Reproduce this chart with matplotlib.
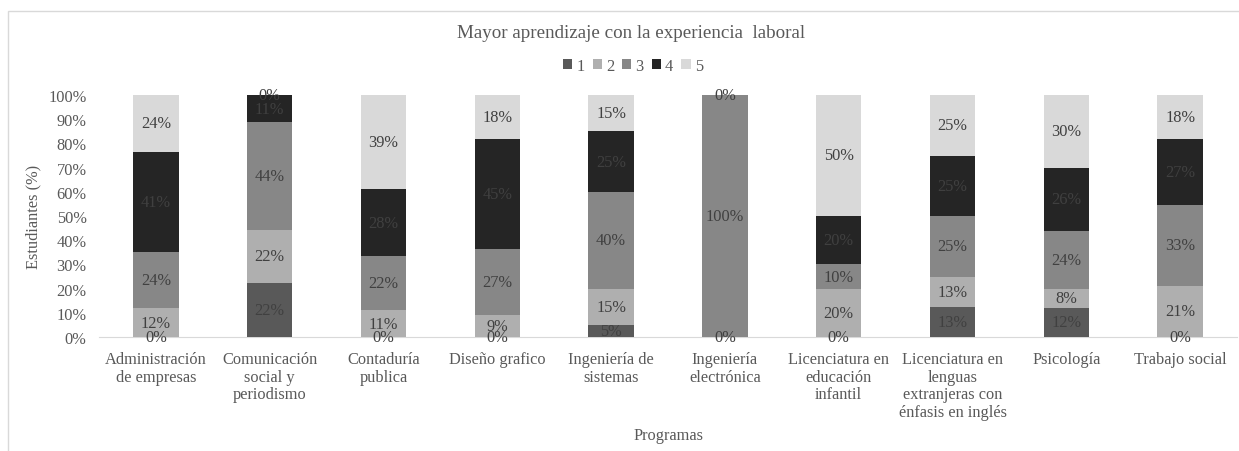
import matplotlib
matplotlib.use('agg')
import matplotlib.pyplot as plt
from matplotlib.patches import Rectangle
import numpy as np

programas = ['Administración\nde empresas', 'Comunicación\nsocial y\nperiodismo',
             'Contaduría\npublica', 'Diseño grafico', 'Ingeniería de\nsistemas',
             'Ingeniería\nelectrónica', 'Licenciatura en\neducación\ninfantil',
             'Licenciatura en\nlenguas\nextranjeras con\nénfasis en inglés',
             'Psicología', 'Trabajo social']
niveles = ['1', '2', '3', '4', '5']
nivel1 = [0, 22.2, 0, 0, 5, 0, 0, 12.5, 12, 0]
nivel2 = [11.8, 22.2, 11.1, 9.1, 15, 0, 20, 12.5, 8, 21.2]
nivel3 = [23.5, 44.4, 22.2, 27.3, 40, 100, 10, 25, 24, 33.3]
nivel4 = [41.2, 11.1, 27.8, 45.4, 25, 0, 20, 25, 26, 27.3]
nivel5 = [23.5, 0, 38.9, 18.2, 15, 0, 50, 25, 30, 18.2]
colores = ['#595959', '#afafaf', '#878787', '#252525', '#d9d9d9']

TXT = '#595959'
FS = 11.8
plt.rcParams['font.family'] = ['Liberation Serif', 'DejaVu Serif']

fig = plt.figure(figsize=(12.39, 4.52), dpi=100)
ax = fig.add_axes([99/1239, 1 - 338/452, (1237 - 99)/1239, (338 - 96)/452])

# chart frame (light grey, only left/top visible in the crop)
fig.patches.append(Rectangle((8/1239, -0.2), 1.2, 1.2 - 12/452, transform=fig.transFigure,
                             fill=False, ec='#d9d9d9', lw=1, zorder=0))

x = np.arange(len(programas))
bottom = np.zeros(len(programas))
drawn = set()
for nombre, vals, col in zip(niveles, [nivel1, nivel2, nivel3, nivel4, nivel5], colores):
    v = np.array(vals, dtype=float)
    ax.bar(x, v, 0.4, bottom=bottom, color=col, label=nombre, zorder=2)
    for xi, b, h in zip(x, bottom, v):
        key = (xi, round(b + h/2, 1), int(np.floor(h + 0.5)))
        if key in drawn:  # identical label on the same spot
            continue
        drawn.add(key)
        ax.text(xi, b + h/2, '%d%%' % key[2], ha='center', va='center',
                fontsize=FS, color='#404040', zorder=3)
    bottom += v

ax.set_xlim(-0.5, len(programas) - 0.5)
ax.set_ylim(0, 100)
ax.set_yticks(np.arange(0, 101, 10))
ax.set_yticklabels(['%d%%' % t for t in range(0, 101, 10)])
ax.set_xticks(x)
ax.set_xticklabels(programas, linespacing=1.15)
ax.tick_params(axis='both', length=0, labelsize=FS, labelcolor=TXT)
ax.tick_params(axis='x', pad=10)
ax.tick_params(axis='y', pad=9)
for s in ['top', 'right', 'left']:
    ax.spines[s].set_visible(False)
ax.spines['bottom'].set_color('#d9d9d9')
ax.spines['bottom'].set_zorder(1)

ax.set_ylabel('Estudiantes (%)', fontsize=FS, color=TXT, labelpad=5)
fig.text(668/1239, 1 - 436/452, 'Programas', ha='center', va='center', fontsize=FS, color=TXT)
fig.text(631/1239, 1 - 33/452, 'Mayor aprendizaje con la experiencia  laboral', ha='center',
         va='center', fontsize=13.7, color=TXT)

fig.legend(loc='center', bbox_to_anchor=(633/1239, 1 - 67/452), ncol=5, frameon=False,
           fontsize=FS, labelcolor=TXT, handlelength=0.55, handleheight=0.55,
           handletextpad=0.25, columnspacing=0.5)

fig.savefig('out.png', dpi=100)
